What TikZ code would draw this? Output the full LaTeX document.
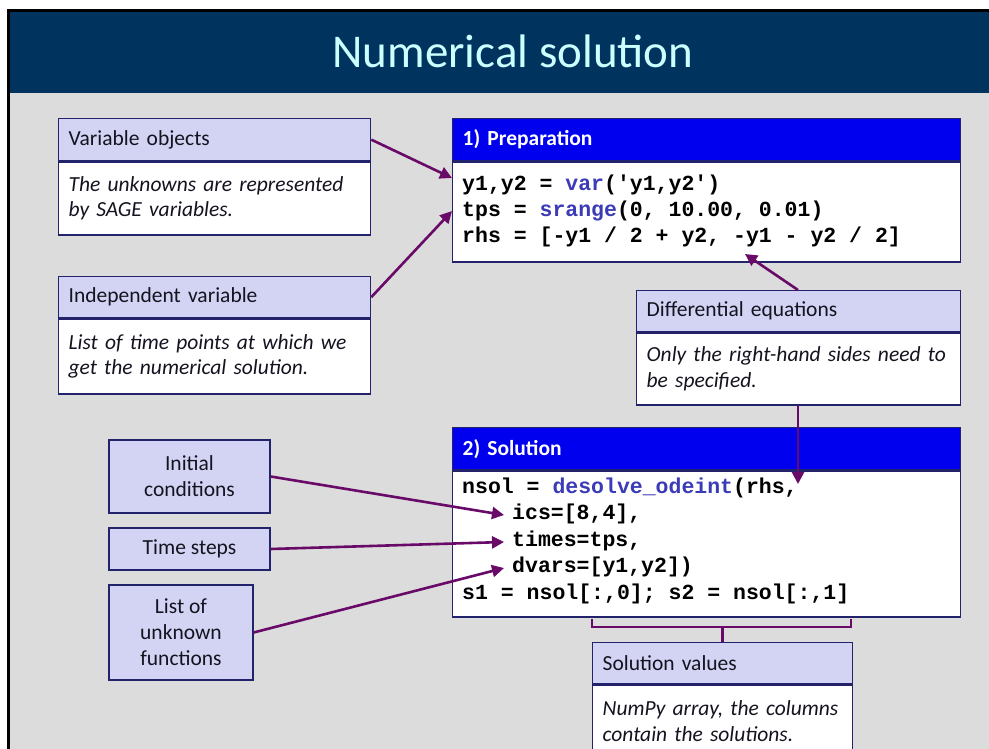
\documentclass[tikz,border=0pt]{standalone}
\usepackage{fontspec}
\setmainfont{Carlito}
\setmonofont{Liberation Mono}
\usetikzlibrary{arrows.meta}
\definecolor{titlebg}{HTML}{00345F}
\definecolor{slidebg}{HTML}{DCDCDC}
\definecolor{lav}{HTML}{D3D3F4}
\definecolor{boxline}{HTML}{23236B}
\definecolor{hdrblue}{HTML}{0000EE}
\definecolor{kw}{HTML}{3B3BB8}
\definecolor{arrc}{HTML}{690A69}
\definecolor{titletxt}{HTML}{CCFFFF}
\definecolor{txt}{HTML}{141420}
\tikzset{
  titlestyle/.style={font=\fontsize{47}{56}\selectfont, text=titletxt, inner sep=0pt},
  hdr/.style={draw=boxline, fill=lav, line width=1.3pt, anchor=north west, inner xsep=10pt, inner ysep=0pt, align=left, text=txt, font=\fontsize{21.5}{25}\selectfont},
  bdy/.style={draw=boxline, fill=white, line width=1.3pt, anchor=north west, inner xsep=10pt, inner ysep=0pt, align=left, text=txt, font=\fontsize{21.5}{25.5}\selectfont\itshape},
  cbh/.style={draw=boxline, fill=hdrblue, line width=1.3pt, anchor=north west, inner xsep=10pt, inner ysep=0pt, align=left, text=white, font=\fontsize{21.5}{25}\selectfont\bfseries},
  cbb/.style={draw=boxline, fill=white, line width=1.3pt, anchor=north west, inner sep=0pt},
  code/.style={anchor=mid west, inner sep=0pt, font=\fontsize{21.5}{26}\selectfont\ttfamily\bfseries, text=black},
  sbox/.style={draw=boxline, fill=lav, line width=1.3pt, align=center, inner sep=0pt, text=txt, font=\fontsize{21.5}{26}\selectfont},
  arr/.style={draw=arrc, line width=2.6pt, -{Triangle[length=12pt,width=12pt]}},
  bracestyle/.style={draw=arrc, line width=2.8pt}
}
\begin{document}
\begin{tikzpicture}[x=1pt,y=-1pt]
\clip (0,0) rectangle (989,749);
\fill[white] (0,0) rectangle (989,749);
\fill[black] (7,9) rectangle (989,749);
\fill[titlebg] (10,12) rectangle (989,93);
\fill[slidebg] (10,93) rectangle (989,749);
\node[titlestyle] (title) at (513,51) {Numerical solution};

% Variable objects
\node[hdr, text width=292pt, minimum height=42pt] (voh) at (58,118) {Variable objects};
\node[bdy, text width=292pt, minimum height=73pt] (vob) at (voh.south west) {The unknowns are represented\\by SAGE variables.};

% Independent variable
\node[hdr, text width=292pt, minimum height=41pt] (ivh) at (58,276) {Independent variable};
\node[bdy, text width=292pt, minimum height=75pt] (ivb) at (ivh.south west) {List of time points at which we\\get the numerical solution.};

% Preparation
\node[cbh, text width=488pt, minimum height=42pt] (prh) at (452,118) {1) Preparation};
\node[cbb, minimum width=508pt, minimum height=100pt] (prb) at (prh.south west) {};
\node[code] (p1) at (462,188) {y1,y2 = \textcolor{kw}{var}('y1,y2')};
\node[code] (p2) at (462,214) {tps = \textcolor{kw}{srange}(0, 10.00, 0.01)};
\node[code] (p3) at (462,240) {rhs = [-y1 / 2 + y2, -y1 - y2 / 2]};

% Differential equations
\node[hdr, text width=304pt, minimum height=41pt] (deh) at (636,290) {Differential equations};
\node[bdy, text width=304pt, minimum height=72pt] (deb) at (deh.south west) {Only the right-hand sides need to\\be specified.};

% Solution
\node[cbh, text width=488pt, minimum height=42pt] (soh) at (452,427) {2) Solution};
\node[cbb, minimum width=508pt, minimum height=146pt] (sob) at (soh.south west) {};
\node[code] (s1) at (462,491) {nsol = \textcolor{kw}{desolve\_odeint}(rhs,};
\node[code] (s2) at (512,517.5) {ics=[8,4],};
\node[code] (s3) at (512,544) {times=tps,};
\node[code] (s4) at (512,570.5) {dvars=[y1,y2])};
\node[code] (s5) at (462,597) {s1 = nsol[:,0]; s2 = nsol[:,1]};

% small boxes
\node[sbox, minimum width=161pt, minimum height=73pt] (ic) at (189.5,476.5) {Initial\\conditions};
\node[sbox, minimum width=161pt, minimum height=42pt] (ts) at (189.5,549) {Time steps};
\node[sbox, minimum width=144pt, minimum height=95pt] (lu) at (181,632.5) {List of\\unknown\\functions};

% Solution values
\node[hdr, text width=240pt, minimum height=41pt] (svh) at (592,642) {Solution values};
\node[bdy, text width=240pt, minimum height=72pt] (svb) at (svh.south west) {NumPy array, the columns\\contain the solutions.};

% brace
\coordinate (bl) at (592,619);
\coordinate (br) at (851,619);
\draw[bracestyle] (bl) -- ++(0,8) -| (br);
\draw[bracestyle] (svh.north) -- ++(0,-15);

% arrows
\coordinate (pa) at (452,178);
\coordinate (pb) at (452,211);
\coordinate (rt) at (745,254);
\coordinate (ct) at (798,484);
\coordinate (ta) at (504,515);
\coordinate (tb) at (504,542);
\coordinate (tc) at (504,568);
\draw[arr] (voh.east) -- (pa);
\draw[arr] (ivh.east) -- (pb);
\draw[arr] (deh.north -| ct) -- (rt);
\draw[arr] (deb.south -| ct) -- (ct);
\draw[arr] (ic.east) -- (ta);
\draw[arr] (ts.east) -- (tb);
\draw[arr] (lu.east) -- (tc);
\end{tikzpicture}
\end{document}
